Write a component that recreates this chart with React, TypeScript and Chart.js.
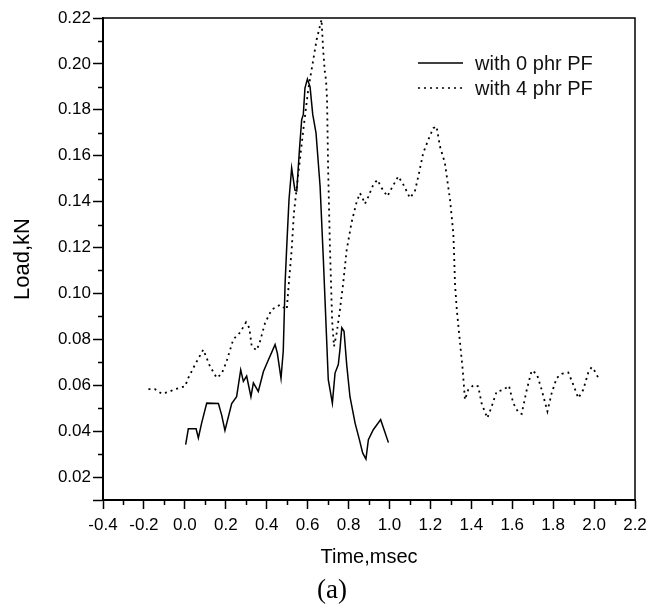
import React, { useEffect, useRef } from "react";
import { Chart, registerables } from "chart.js";

Chart.register(...registerables);

// ---- data ----
const timeNoPF = [
  0.004, 0.017, 0.055, 0.066, 0.082, 0.107, 0.164, 0.18, 0.196, 0.229, 0.253, 0.273, 0.286, 0.302,
  0.323, 0.335, 0.359, 0.384, 0.408, 0.441, 0.452, 0.47, 0.481, 0.49, 0.498, 0.509, 0.522, 0.538,
  0.547, 0.56, 0.571, 0.579, 0.587, 0.599, 0.612, 0.625, 0.641, 0.661, 0.677, 0.685, 0.701, 0.721,
  0.734, 0.75, 0.758, 0.767, 0.778, 0.791, 0.807, 0.832, 0.853, 0.869, 0.885, 0.897, 0.921, 0.957,
  0.995,
];
const loadNoPF = [
  0.0341, 0.041, 0.041, 0.037, 0.0435, 0.0522, 0.052, 0.047, 0.0403, 0.052, 0.055, 0.0667, 0.0617,
  0.064, 0.055, 0.061, 0.0573, 0.066, 0.071, 0.0777, 0.074, 0.063, 0.075, 0.1045, 0.1205, 0.1408,
  0.1546, 0.145, 0.1447, 0.1626, 0.1757, 0.178, 0.1895, 0.1934, 0.19, 0.178, 0.17, 0.1466, 0.1147,
  0.0973, 0.0624, 0.0522, 0.0653, 0.069, 0.0755, 0.085, 0.0835, 0.069, 0.055, 0.0435, 0.0363,
  0.0305, 0.0278, 0.0363, 0.0406, 0.045, 0.035,
];
const timeWithPF = [
  -0.178, -0.146, -0.113, -0.081, -0.048, 0.001, 0.017, 0.05, 0.09, 0.123, 0.156, 0.18, 0.204,
  0.237, 0.27, 0.299, 0.315, 0.327, 0.351, 0.367, 0.392, 0.424, 0.465, 0.481, 0.498, 0.511, 0.522,
  0.533, 0.555, 0.579, 0.603, 0.625, 0.644, 0.668, 0.676, 0.684, 0.69, 0.695, 0.7, 0.709, 0.72,
  0.729, 0.742, 0.758, 0.774, 0.791, 0.815, 0.84, 0.856, 0.872, 0.88, 0.897, 0.921, 0.941, 0.962,
  0.99, 1.011, 1.043, 1.068, 1.1, 1.124, 1.141, 1.165, 1.19, 1.214, 1.23, 1.247, 1.271, 1.296,
  1.312, 1.316, 1.32, 1.329, 1.345, 1.358, 1.369, 1.385, 1.413, 1.434, 1.45, 1.478, 1.5, 1.524,
  1.557, 1.584, 1.605, 1.63, 1.646, 1.671, 1.695, 1.72, 1.744, 1.772, 1.793, 1.817, 1.842, 1.874,
  1.895, 1.923, 1.947, 1.972, 1.988, 2.008, 2.026,
];
const loadWithPF = [
  0.0583, 0.0583, 0.0563, 0.057, 0.0583, 0.0595, 0.0632, 0.069, 0.0755, 0.0682, 0.0632, 0.065,
  0.0704, 0.08, 0.083, 0.0874, 0.085, 0.0769, 0.0752, 0.079, 0.0871, 0.0929, 0.095, 0.094, 0.093,
  0.1074, 0.119, 0.135, 0.1525, 0.1713, 0.1888, 0.2004, 0.2105, 0.2193, 0.206, 0.1967, 0.193,
  0.1844, 0.1553, 0.1205, 0.0878, 0.0769, 0.0827, 0.0929, 0.1045, 0.119, 0.131, 0.14, 0.1437,
  0.1408, 0.139, 0.1422, 0.1474, 0.1495, 0.1459, 0.1423, 0.1459, 0.151, 0.1474, 0.1416, 0.1444,
  0.151, 0.1612, 0.167, 0.172, 0.1728, 0.164, 0.1568, 0.1408, 0.1263, 0.117, 0.1045, 0.093,
  0.0784, 0.0667, 0.0537, 0.058, 0.0602, 0.0595, 0.0522, 0.0457, 0.0508, 0.0573, 0.058, 0.0598,
  0.0522, 0.0481, 0.0475, 0.058, 0.0664, 0.065, 0.058, 0.0486, 0.0566, 0.0631, 0.065, 0.0655,
  0.061, 0.0544, 0.058, 0.0656, 0.0679, 0.0656, 0.0621,
];
const seriesLabels = ["with 0 phr PF", "with 4 phr PF"];
const xTitle = "Time,msec";
const yTitle = "Load,kN";
const panelLabel = "(a)";
const xMin = -0.4;
const xMax = 2.2;
const xStep = 0.2;
const yMin = 0.01;
const yMax = 0.22;
const yStep = 0.02;

const SANS = "'Liberation Sans', Arial, Helvetica, sans-serif";
const SERIF = "'Liberation Serif', 'Times New Roman', serif";

const toPoints = (xs: number[], ys: number[]) => xs.map((x, i) => ({ x, y: ys[i] }));

const framePlugin = {
  id: "frameMinor",
  afterDraw(chart: any) {
    const { ctx, chartArea: a, scales } = chart;
    ctx.save();
    ctx.strokeStyle = "#000";
    ctx.lineWidth = 1.5;
    ctx.setLineDash([]);
    ctx.beginPath();
    ctx.moveTo(a.left, a.top);
    ctx.lineTo(a.right, a.top);
    ctx.lineTo(a.right, a.bottom);
    ctx.stroke();
    // minor ticks
    ctx.beginPath();
    const nx = Math.round((xMax - xMin) / xStep);
    for (let i = 0; i < nx; i++) {
      const px = Math.round(scales.x.getPixelForValue(xMin + (i + 0.5) * xStep)) + 0.5;
      ctx.moveTo(px, a.bottom);
      ctx.lineTo(px, a.bottom + 5);
    }
    const minorY = yStep / 2;
    for (let i = 1; i <= 20; i++) {
      const v = i * minorY + 0.01;
      if (v > yMax + 1e-9) break;
      if (Math.abs(Math.round(v / yStep) * yStep - v) < 1e-9) continue;
      const py = Math.round(scales.y.getPixelForValue(v)) + 0.5;
      ctx.moveTo(a.left, py);
      ctx.lineTo(a.left - 5, py);
    }
    ctx.stroke();
    ctx.restore();
  },
};

const legendPlugin = {
  id: "insideLegend",
  afterDraw(chart: any) {
    const { ctx, chartArea: a } = chart;
    ctx.save();
    chart.data.datasets.forEach((ds: any, i: number) => {
      const y = a.top + 45 + i * 25;
      const x0 = a.right - 217;
      ctx.strokeStyle = ds.borderColor;
      ctx.lineWidth = 1.3;
      ctx.setLineDash(ds.borderDash || []);
      ctx.beginPath();
      ctx.moveTo(x0, y);
      ctx.lineTo(x0 + 45, y);
      ctx.stroke();
      ctx.setLineDash([]);
      ctx.fillStyle = "#111";
      ctx.font = `20px ${SANS}`;
      ctx.textAlign = "left";
      ctx.textBaseline = "middle";
      ctx.fillText(ds.label, x0 + 57, y + 1);
    });
    ctx.restore();
  },
};

export default function App() {
  const canvasRef = useRef<HTMLCanvasElement | null>(null);

  useEffect(() => {
    if (!canvasRef.current) return;
    const chart = new Chart(canvasRef.current, {
      type: "line",
      data: {
        datasets: [
          {
            label: seriesLabels[0],
            data: toPoints(timeNoPF, loadNoPF),
            borderColor: "#000",
            borderWidth: 1.5,
            pointRadius: 0,
            tension: 0,
            fill: false,
          },
          {
            label: seriesLabels[1],
            data: toPoints(timeWithPF, loadWithPF),
            borderColor: "#000",
            borderWidth: 1.8,
            borderDash: [2, 4],
            pointRadius: 0,
            tension: 0,
            fill: false,
          },
        ],
      },
      options: {
        animation: false,
        responsive: true,
        maintainAspectRatio: false,
        layout: { padding: { top: 18, right: 22, left: 0, bottom: 0 } },
        plugins: { legend: { display: false }, tooltip: { enabled: false } },
        scales: {
          x: {
            type: "linear",
            min: xMin,
            max: xMax,
            afterFit: (s: any) => {
              s.height = 114;
            },
            border: { display: true, color: "#000", width: 2 },
            grid: {
              display: true,
              drawOnChartArea: false,
              drawTicks: true,
              tickLength: 9,
              tickColor: "#000",
              tickWidth: 1.5,
            },
            ticks: {
              stepSize: xStep,
              autoSkip: false,
              maxRotation: 0,
              padding: 6,
              color: "#000",
              font: { family: SANS, size: 17 },
              callback: (v: any) => Number(v).toFixed(1),
            },
            title: {
              display: true,
              text: xTitle,
              color: "#000",
              font: { family: SANS, size: 20 },
              padding: { top: 0, bottom: 45 },
            },
          },
          y: {
            type: "linear",
            min: yMin,
            max: yMax,
            afterFit: (s: any) => {
              s.width = 103;
            },
            border: { display: true, color: "#000", width: 2 },
            grid: {
              display: true,
              drawOnChartArea: false,
              drawTicks: true,
              tickLength: 10,
              tickColor: "#000",
              tickWidth: 1.5,
            },
            ticks: {
              stepSize: yStep,
              autoSkip: false,
              padding: 2,
              color: "#000",
              font: { family: SANS, size: 17 },
              callback: (v: any) =>
                Math.abs(Number(v) - yMin) < 1e-9 ? "" : Number(v).toFixed(2),
            },
            title: {
              display: true,
              text: yTitle,
              color: "#000",
              font: { family: SANS, size: 22 },
              padding: { top: 10, bottom: 0 },
            },
          },
        },
      },
      plugins: [framePlugin, legendPlugin],
    } as any);
    return () => chart.destroy();
  }, []);

  return (
    <div style={{ position: "fixed", left: 0, top: 0, width: 657, height: 614, background: "#fff" }}>
      <canvas ref={canvasRef} />
      <div
        style={{
          position: "absolute",
          left: 282,
          top: 574,
          width: 100,
          textAlign: "center",
          fontFamily: SERIF,
          fontSize: 27,
          lineHeight: "30px",
          color: "#000",
        }}
      >
        {panelLabel}
      </div>
    </div>
  );
}
